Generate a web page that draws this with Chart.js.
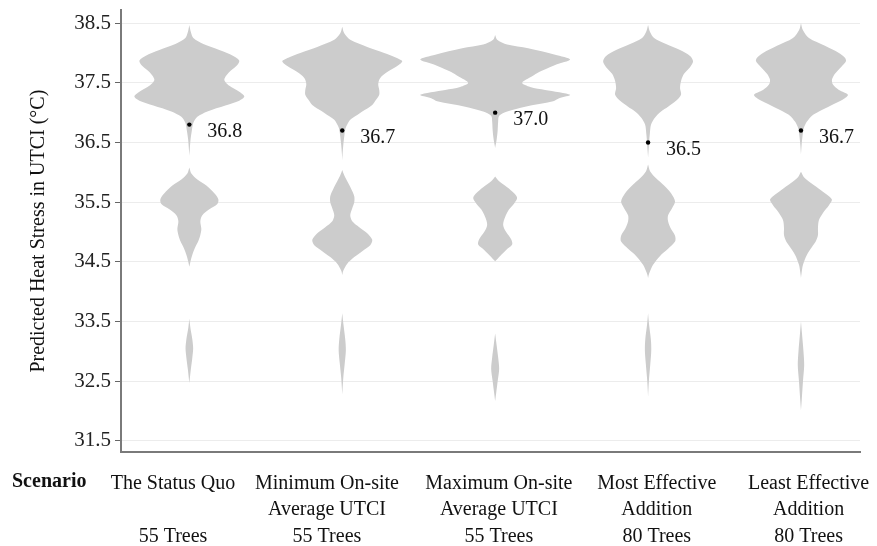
<!DOCTYPE html>
<html>
<head>
<meta charset="utf-8">
<script src="https://cdn.jsdelivr.net/npm/chart.js@4.4.1/dist/chart.umd.min.js"></script>
<style>
  html, body { margin: 0; padding: 0; background: #ffffff; }
  canvas { display: block; }
</style>
</head>
<body>
<canvas id="chart" width="877" height="546"></canvas>
<script>
// Scenario labels (multi-line) and the median predicted UTCI of each scenario
const scenarios = [
  ["The Status Quo", "", "55 Trees"],
  ["Minimum On-site", "Average UTCI", "55 Trees"],
  ["Maximum On-site", "Average UTCI", "55 Trees"],
  ["Most Effective", "Addition", "80 Trees"],
  ["Least Effective", "Addition", "80 Trees"]
];
const medians = [36.8, 36.7, 37.0, 36.5, 36.7];
const yTicks = [31.5, 32.5, 33.5, 34.5, 35.5, 36.5, 37.5, 38.5];

// Violin outlines: UTCI level (°C) and relative density (half width) at that level
const statusQuoUtci = [38.47, 38.35, 38.25, 38.15, 38.05, 37.95, 37.87, 37.78, 37.68, 37.55, 37.45, 37.35, 37.27, 37.2, 37.12, 37.02, 36.93, 36.83, 36.7, 36.55, 36.4, 36.28,
  36.08, 35.98, 35.88, 35.78, 35.65, 35.55, 35.47, 35.38, 35.28, 35.18, 35.05, 34.95, 34.85, 34.75, 34.62, 34.5, 34.42,
  33.55, 33.4, 33.2, 33.05, 32.9, 32.7, 32.47];
const statusQuoDensity = [0, 1.5, 4, 14, 30, 44, 50, 47, 40, 35, 40, 50, 55, 50, 36, 18, 8, 4, 2.5, 1.2, 0.5, 0,
  0, 2, 8, 17, 25, 29, 28, 20, 13, 11, 12, 11, 9, 6, 3, 1, 0,
  0, 1, 3, 3.8, 3, 1.5, 0];

const minOnsiteUtci = [38.44, 38.33, 38.22, 38.1, 38.0, 37.92, 37.86, 37.78, 37.68, 37.58, 37.48, 37.38, 37.3, 37.22, 37.13, 37.02, 36.96, 36.88, 36.8, 36.72, 36.6, 36.45, 36.3, 36.2,
  36.04, 35.95, 35.85, 35.72, 35.6, 35.5, 35.4, 35.28, 35.18, 35.08, 34.98, 34.87, 34.78, 34.68, 34.58, 34.47, 34.35, 34.28,
  33.64, 33.45, 33.2, 33.02, 32.8, 32.55, 32.28];
const minOnsiteDensity = [0, 2, 8, 25, 42, 54, 60, 55, 45, 38, 36, 37, 37, 34, 30, 20, 15, 8, 5, 3, 2, 1, 0.3, 0,
  0, 2, 5, 9, 12, 12, 10, 8, 10, 17, 25, 30, 28, 20, 12, 5, 1, 0,
  0, 1.2, 3, 3.6, 2.5, 1, 0];

const maxOnsiteUtci = [38.3, 38.22, 38.14, 38.08, 37.97, 37.89, 37.8, 37.75, 37.68, 37.61, 37.5, 37.43, 37.38, 37.3, 37.24, 37.19, 37.1, 37.02, 36.95, 36.85, 36.7, 36.55, 36.41,
  35.93, 35.85, 35.75, 35.65, 35.57, 35.48, 35.38, 35.25, 35.12, 35.0, 34.88, 34.79, 34.7, 34.6, 34.51,
  33.3, 33.1, 32.9, 32.71, 32.5, 32.3, 32.17];
const maxOnsiteDensity = [0, 2, 12, 33, 60, 75, 60, 53, 44, 37, 27, 35, 50, 75, 64, 58, 30, 12, 4, 3, 2.5, 1.5, 0,
  0, 4, 12, 19, 22, 19, 14, 10, 8, 11, 16, 17, 11, 5, 0,
  0, 1.5, 3, 4, 2.5, 1, 0];

const mostEffectiveUtci = [38.47, 38.35, 38.25, 38.15, 38.05, 37.95, 37.86, 37.76, 37.65, 37.53, 37.41, 37.3, 37.2, 37.1, 37.02, 36.92, 36.8, 36.65, 36.5, 36.35, 36.25,
  36.13, 36.02, 35.9, 35.78, 35.65, 35.51, 35.4, 35.28, 35.18, 35.05, 34.94, 34.84, 34.72, 34.6, 34.45, 34.3, 34.23,
  33.64, 33.45, 33.2, 33.02, 32.8, 32.5, 32.24];
const mostEffectiveDensity = [0, 2, 6, 18, 32, 42, 45, 42, 36, 33, 32, 33, 28, 20, 13, 7, 3, 1.8, 1, 0.4, 0,
  0, 2, 8, 16, 23, 27, 24, 20, 20, 23, 27, 27, 20, 12, 5, 1, 0,
  0, 1, 2.8, 3.2, 2.3, 0.8, 0];

const leastEffectiveUtci = [38.5, 38.38, 38.25, 38.12, 38.0, 37.92, 37.86, 37.76, 37.65, 37.55, 37.47, 37.38, 37.3, 37.22, 37.12, 37.02, 36.95, 36.85, 36.75, 36.6, 36.45, 36.3,
  36.01, 35.92, 35.82, 35.7, 35.6, 35.54, 35.45, 35.32, 35.2, 35.07, 34.95, 34.85, 34.75, 34.62, 34.45, 34.3, 34.23,
  33.5, 33.3, 33.0, 32.77, 32.5, 32.2, 32.01];
const leastEffectiveDensity = [0, 2, 8, 24, 38, 44, 45, 40, 34, 31, 32, 38, 47, 42, 30, 18, 11, 6, 3, 1.5, 0.6, 0,
  0, 3, 10, 20, 28, 31, 28, 22, 18, 17, 17, 15, 11, 6, 2, 0.5, 0,
  0, 1, 2.5, 3.2, 2, 0.8, 0];

const violinUtci = [statusQuoUtci, minOnsiteUtci, maxOnsiteUtci, mostEffectiveUtci, leastEffectiveUtci];
const violinDensity = [statusQuoDensity, minOnsiteDensity, maxOnsiteDensity, mostEffectiveDensity, leastEffectiveDensity];

// Drawing settings
const VIOLIN_SPREAD = 1 / 153;          // x-axis units per density unit
const LABEL_SHIFT = [-0.107, -0.1, 0.024, 0.057, 0.05]; // horizontal nudge of scenario captions
const SERIF = "'Liberation Serif', 'Times New Roman', serif";
const VIOLIN_GREY = '#cccccc';

// Split a violin into its separate blobs (each bounded by zero density)
function violinParts(i) {
  const ys = violinUtci[i], ds = violinDensity[i];
  const parts = [];
  let cur = [];
  ys.forEach((y, k) => {
    cur.push([y, ds[k]]);
    if (ds[k] === 0 && cur.length > 1) { parts.push(cur); cur = []; }
  });
  if (cur.length > 1) parts.push(cur);
  return parts;
}

// Closed outline of one blob: down the right side, back up the left side
function blobOutline(center, part) {
  const right = part.map(([y, d]) => ({ x: center + d * VIOLIN_SPREAD, y }));
  const left = part.map(([y, d]) => ({ x: center - d * VIOLIN_SPREAD, y })).reverse();
  return right.concat(left);
}

const datasets = [];
violinUtci.forEach((_, i) => {
  violinParts(i).forEach(part => {
    datasets.push({
      type: 'line',
      data: blobOutline(i + 1, part),
      parsing: false,
      fill: 'shape',
      backgroundColor: VIOLIN_GREY,
      borderColor: 'rgba(0,0,0,0)',
      borderWidth: 0,
      pointRadius: 0,
      tension: 0.3,
      order: 2
    });
  });
});

datasets.push({
  type: 'line',
  data: medians.map((m, i) => ({ x: i + 1, y: m })),
  parsing: false,
  showLine: false,
  pointRadius: 2.2,
  pointBackgroundColor: '#000000',
  pointBorderWidth: 0,
  order: 1
});

// Median value captions beside each dot, and the "Scenario" row heading
const annotations = {
  id: 'annotations',
  afterDatasetsDraw(chart) {
    const { ctx, scales: { x, y }, chartArea } = chart;
    ctx.save();
    ctx.fillStyle = '#111111';
    ctx.font = `20px ${SERIF}`;
    ctx.textAlign = 'left';
    ctx.textBaseline = 'middle';
    medians.forEach((m, i) => {
      ctx.fillText(m.toFixed(1), x.getPixelForValue(i + 1) + 18, y.getPixelForValue(m) + 7);
    });
    ctx.font = `bold 20px ${SERIF}`;
    ctx.fillText('Scenario', 12, chartArea.bottom + 30);
    ctx.restore();
  }
};

new Chart(document.getElementById('chart'), {
  type: 'line',
  data: { datasets },
  plugins: [annotations],
  options: {
    responsive: false,
    animation: false,
    devicePixelRatio: 1,
    layout: { padding: { top: 10, right: 17, left: 0, bottom: 0 } },
    plugins: { legend: { display: false }, tooltip: { enabled: false } },
    scales: {
      x: {
        type: 'linear',
        min: 0.553,
        max: 5.386,
        afterBuildTicks(scale) {
          scale.ticks = scenarios.map((_, i) => ({ value: i + 1 + LABEL_SHIFT[i] }));
        },
        afterFit(scale) {
          scale.height = 93.7;
          scale.paddingLeft = 0;
          scale.paddingRight = 0;
        },
        grid: { display: false, drawTicks: false },
        border: { display: true, color: '#7a7a7a', width: 2 },
        ticks: {
          autoSkip: false,
          maxRotation: 0,
          padding: 18,
          color: '#111111',
          font: { family: SERIF, size: 20, lineHeight: 1.32 },
          callback: (v, idx) => scenarios[idx]
        }
      },
      y: {
        type: 'linear',
        min: 31.31,
        max: 38.72,
        afterBuildTicks(scale) {
          scale.ticks = yTicks.map(v => ({ value: v }));
        },
        afterFit(scale) {
          scale.width = 121;
          scale.paddingTop = 0;
          scale.paddingBottom = 0;
        },
        grid: { color: '#ececec', lineWidth: 1, tickColor: '#666666', tickLength: 6, drawTicks: true },
        border: { display: true, color: '#7a7a7a', width: 2 },
        ticks: {
          padding: 4,
          color: '#222222',
          font: { family: SERIF, size: 21 },
          callback: v => v.toFixed(1)
        },
        title: {
          display: true,
          text: 'Predicted Heat Stress in UTCI (°C)',
          color: '#111111',
          font: { family: SERIF, size: 20 },
          padding: { top: 27, bottom: 0 }
        }
      }
    }
  }
});
</script>
</body>
</html>
